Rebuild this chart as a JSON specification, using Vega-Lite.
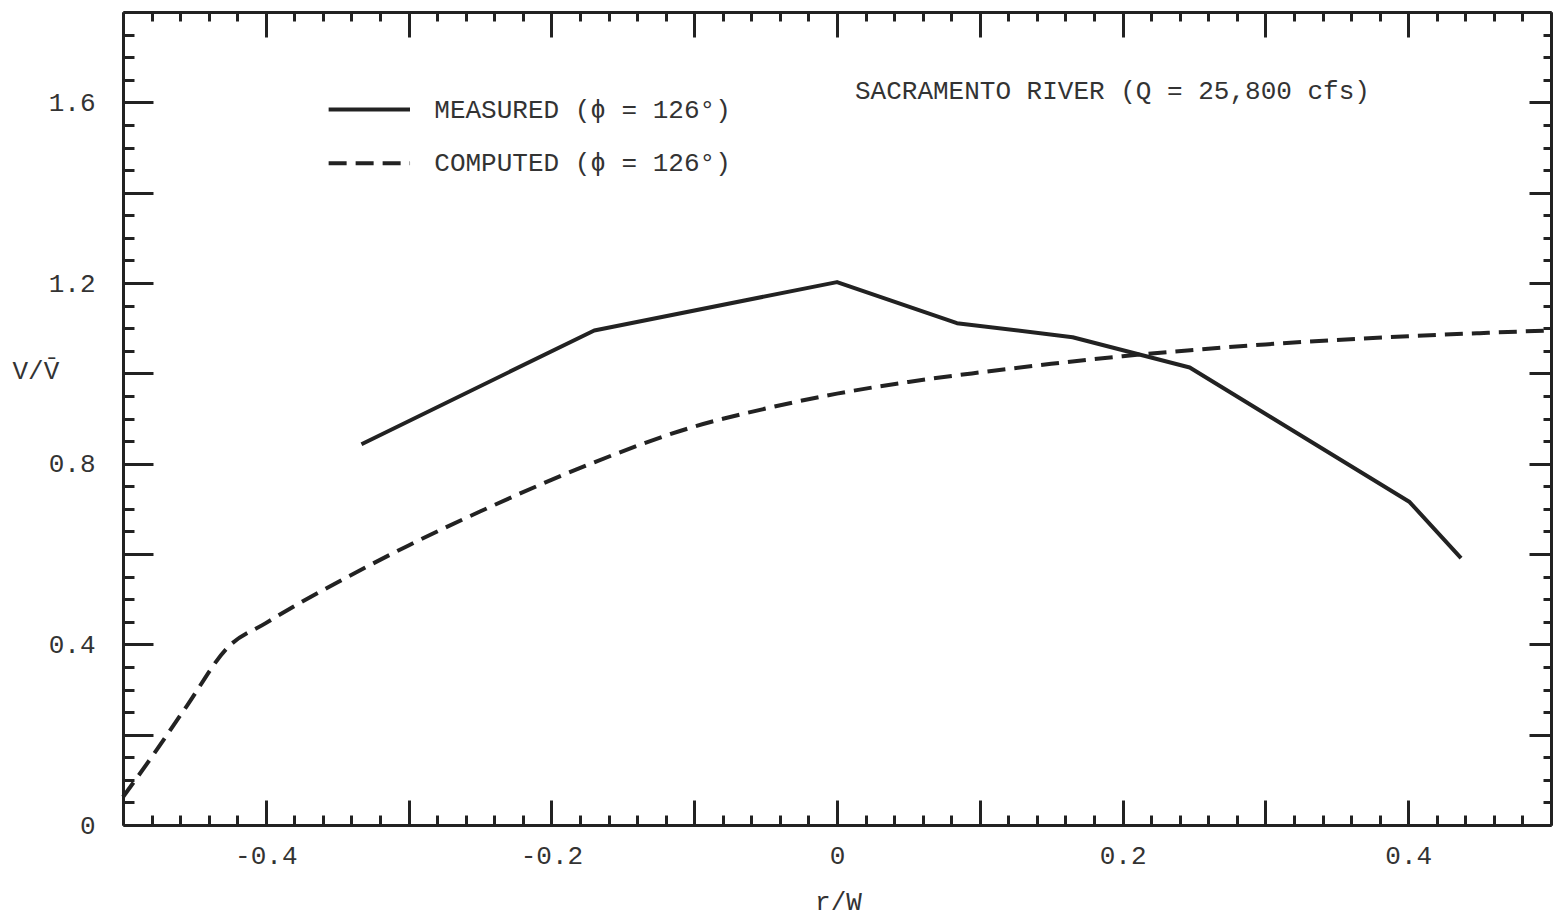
{
  "$schema": "https://vega.github.io/schema/vega-lite/v6.json",
  "autosize": "none",
  "width": 1428,
  "height": 813,
  "padding": {"left": 123, "top": 12, "right": 2, "bottom": 92},
  "background": "white",
  "view": {"stroke": null},
  "config": {
    "axis": {
      "grid": false,
      "domainColor": "#222",
      "domainWidth": 3,
      "tickColor": "#222",
      "tickWidth": 3,
      "tickCap": "butt",
      "labelFont": "Liberation Mono",
      "labelFontSize": 26,
      "labelColor": "#333",
      "titleFont": "Liberation Mono",
      "titleFontSize": 26,
      "titleFontWeight": "normal",
      "titleColor": "#333",
      "labelOverlap": false,
      "labelFlush": false
    }
  },
  "datasets": {
    "measured": [
      {"x": -0.333, "y": 0.843},
      {"x": -0.17, "y": 1.095},
      {"x": 0.0, "y": 1.202},
      {"x": 0.084, "y": 1.111},
      {"x": 0.165, "y": 1.08},
      {"x": 0.247, "y": 1.013},
      {"x": 0.401, "y": 0.715},
      {"x": 0.437, "y": 0.591}
    ],
    "computed": [
      {"x": -0.5, "y": 0.062},
      {"x": -0.48, "y": 0.15},
      {"x": -0.455, "y": 0.265},
      {"x": -0.427, "y": 0.392},
      {"x": -0.4, "y": 0.447},
      {"x": -0.377, "y": 0.49},
      {"x": -0.35, "y": 0.537},
      {"x": -0.32, "y": 0.587},
      {"x": -0.3, "y": 0.619},
      {"x": -0.25, "y": 0.694},
      {"x": -0.2, "y": 0.764},
      {"x": -0.17, "y": 0.803},
      {"x": -0.1, "y": 0.882},
      {"x": -0.05, "y": 0.922},
      {"x": 0.0, "y": 0.955},
      {"x": 0.05, "y": 0.981},
      {"x": 0.1, "y": 1.002},
      {"x": 0.15, "y": 1.021},
      {"x": 0.2, "y": 1.038},
      {"x": 0.25, "y": 1.052},
      {"x": 0.3, "y": 1.064},
      {"x": 0.35, "y": 1.074},
      {"x": 0.4, "y": 1.082},
      {"x": 0.45, "y": 1.089},
      {"x": 0.5, "y": 1.095}
    ],
    "legendLines": [
      {"series": "measured", "x": -0.356, "y": 1.584},
      {"series": "measured", "x": -0.299, "y": 1.584},
      {"series": "computed", "x": -0.356, "y": 1.465},
      {"series": "computed", "x": -0.299, "y": 1.465}
    ],
    "labels": [
      {"label": "MEASURED (ϕ = 126°)", "x": -0.282, "y": 1.584},
      {"label": "COMPUTED (ϕ = 126°)", "x": -0.282, "y": 1.465},
      {"label": "SACRAMENTO RIVER (Q = 25,800 cfs)", "x": 0.0126, "y": 1.624}
    ]
  },
  "resolve": {"axis": {"x": "independent", "y": "independent"}},
  "layer": [
    {
      "data": {"name": "measured"},
      "mark": {"type": "line", "stroke": "#222", "strokeWidth": 4, "strokeJoin": "round"},
      "encoding": {
        "x": {"field": "x", "type": "quantitative",
              "scale": {"domain": [-0.5, 0.5], "nice": false, "zero": false},
              "axis": {"orient": "bottom", "title": null, "labels": false, "tickSize": -25,
                       "values": [-0.4, -0.3, -0.2, -0.1, 0, 0.1, 0.2, 0.3, 0.4]}},
        "y": {"field": "y", "type": "quantitative",
              "scale": {"domain": [0, 1.8], "nice": false, "zero": false},
              "axis": {"orient": "left", "title": null, "labels": false, "tickSize": -30,
                       "values": [0.2, 0.4, 0.6, 0.8, 1.0, 1.2, 1.4, 1.6]}}
      }
    },
    {
      "data": {"name": "computed"},
      "mark": {"type": "line", "stroke": "#222", "strokeWidth": 4, "strokeDash": [18, 9], "interpolate": "monotone"},
      "encoding": {
        "x": {"field": "x", "type": "quantitative",
              "scale": {"domain": [-0.5, 0.5], "nice": false, "zero": false},
              "axis": {"orient": "bottom", "title": null, "labels": false, "tickSize": -10,
                       "values": [-0.48,-0.46,-0.44,-0.42,-0.38,-0.36,-0.34,-0.32,-0.28,-0.26,-0.24,-0.22,-0.18,-0.16,-0.14,-0.12,-0.08,-0.06,-0.04,-0.02,0.02,0.04,0.06,0.08,0.12,0.14,0.16,0.18,0.22,0.24,0.26,0.28,0.32,0.34,0.36,0.38,0.42,0.44,0.46,0.48]}},
        "y": {"field": "y", "type": "quantitative",
              "scale": {"domain": [0, 1.8], "nice": false, "zero": false},
              "axis": {"orient": "left", "title": null, "labels": false, "tickSize": -11,
                       "values": [0.05,0.1,0.15,0.25,0.3,0.35,0.45,0.5,0.55,0.65,0.7,0.75,0.85,0.9,0.95,1.05,1.1,1.15,1.25,1.3,1.35,1.45,1.5,1.55,1.65,1.7,1.75]}}
      }
    },
    {
      "data": {"name": "measured"},
      "mark": {"type": "point", "opacity": 0},
      "encoding": {
        "x": {"field": "x", "type": "quantitative",
              "scale": {"domain": [-0.5, 0.5], "nice": false, "zero": false},
              "axis": {"orient": "bottom", "title": "r/W", "ticks": false, "domain": false,
                       "labelPadding": 17,
                       "values": [-0.4, -0.2, 0, 0.2, 0.4],
                       "labelExpr": "datum.value == 0 ? '0' : (datum.value < 0 ? '-' : '') + format(abs(datum.value), '.1f')",
                       "titleX": 715, "titleY": 76, "titleAlign": "center", "titleBaseline": "middle"}},
        "y": {"field": "y", "type": "quantitative",
              "scale": {"domain": [0, 1.8], "nice": false, "zero": false},
              "axis": {"orient": "left", "title": "V/V̄", "ticks": false, "domain": false,
                       "labelPadding": 28,
                       "values": [0, 0.4, 0.8, 1.2, 1.6],
                       "labelExpr": "datum.value == 0 ? '0' : format(datum.value, '.1f')",
                       "titleAngle": 0, "titleX": -111, "titleY": 358, "titleAlign": "left", "titleBaseline": "middle"}}
      }
    },
    {
      "data": {"name": "measured"},
      "mark": {"type": "point", "opacity": 0},
      "encoding": {
        "x": {"field": "x", "type": "quantitative",
              "scale": {"domain": [-0.5, 0.5], "nice": false, "zero": false},
              "axis": {"orient": "top", "title": null, "labels": false, "tickSize": -25,
                       "values": [-0.4, -0.3, -0.2, -0.1, 0, 0.1, 0.2, 0.3, 0.4]}},
        "y": {"field": "y", "type": "quantitative",
              "scale": {"domain": [0, 1.8], "nice": false, "zero": false},
              "axis": {"orient": "right", "title": null, "labels": false, "tickSize": -22,
                       "values": [0.2, 0.4, 0.6, 0.8, 1.0, 1.2, 1.4, 1.6]}}
      }
    },
    {
      "data": {"name": "measured"},
      "mark": {"type": "point", "opacity": 0},
      "encoding": {
        "x": {"field": "x", "type": "quantitative",
              "scale": {"domain": [-0.5, 0.5], "nice": false, "zero": false},
              "axis": {"orient": "top", "title": null, "labels": false, "tickSize": -9,
                       "values": [-0.48,-0.46,-0.44,-0.42,-0.38,-0.36,-0.34,-0.32,-0.28,-0.26,-0.24,-0.22,-0.18,-0.16,-0.14,-0.12,-0.08,-0.06,-0.04,-0.02,0.02,0.04,0.06,0.08,0.12,0.14,0.16,0.18,0.22,0.24,0.26,0.28,0.32,0.34,0.36,0.38,0.42,0.44,0.46,0.48]}},
        "y": {"field": "y", "type": "quantitative",
              "scale": {"domain": [0, 1.8], "nice": false, "zero": false},
              "axis": {"orient": "right", "title": null, "labels": false, "tickSize": -8,
                       "values": [0.05,0.1,0.15,0.25,0.3,0.35,0.45,0.5,0.55,0.65,0.7,0.75,0.85,0.9,0.95,1.05,1.1,1.15,1.25,1.3,1.35,1.45,1.5,1.55,1.65,1.7,1.75]}}
      }
    },
    {
      "data": {"name": "legendLines"},
      "mark": {"type": "line", "stroke": "#222", "strokeWidth": 4},
      "encoding": {
        "x": {"field": "x", "type": "quantitative", "axis": null},
        "y": {"field": "y", "type": "quantitative", "axis": null},
        "detail": {"field": "series"},
        "strokeDash": {"field": "series", "type": "nominal", "legend": null,
                       "scale": {"domain": ["measured", "computed"], "range": [[1, 0], [18, 9]]}}
      }
    },
    {
      "data": {"name": "labels"},
      "mark": {"type": "text", "font": "Liberation Mono", "fontSize": 26, "color": "#333", "align": "left", "baseline": "middle"},
      "encoding": {
        "x": {"field": "x", "type": "quantitative", "axis": null},
        "y": {"field": "y", "type": "quantitative", "axis": null},
        "text": {"field": "label"}
      }
    }
  ]
}
